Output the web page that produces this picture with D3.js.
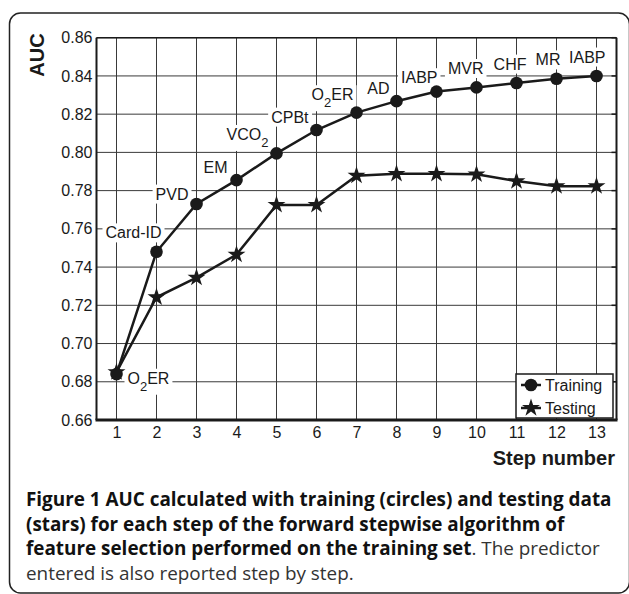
<!DOCTYPE html>
<html>
<head>
<meta charset="utf-8">
<script src="https://cdn.jsdelivr.net/npm/d3@7"></script>
<style>
  body { margin: 0; background: #fff; }
  svg { display: block; }
</style>
</head>
<body>
<div id="chart"></div>
<script>
// values
const steps = [1, 2, 3, 4, 5, 6, 7, 8, 9, 10, 11, 12, 13];
const training = [0.684, 0.748, 0.773, 0.7855, 0.7995, 0.8117, 0.8208, 0.8268, 0.8318, 0.834, 0.8363, 0.8385, 0.840];
const testing = [0.685, 0.7242, 0.7345, 0.7465, 0.7725, 0.7725, 0.7878, 0.7888, 0.7888, 0.7885, 0.785, 0.7823, 0.7823];
// "_2" marks a subscript 2
const predictors = ["O_2ER", "Card-ID", "PVD", "EM", "VCO_2", "CPBt", "O_2ER", "AD", "IABP", "MVR", "CHF", "MR", "IABP"];
const yTicks = [0.66, 0.68, 0.70, 0.72, 0.74, 0.76, 0.78, 0.80, 0.82, 0.84, 0.86];
const seriesNames = ["Training", "Testing"];

// label placement relative to the training point (px)
const labelOffsets = [
  { dx: 11, dy: 4, anchor: "start" },
  { dx: 5, dy: -19, anchor: "end" },
  { dx: -8, dy: -10, anchor: "end" },
  { dx: -9, dy: -13, anchor: "end" },
  { dx: -8, dy: -19, anchor: "end" },
  { dx: -8, dy: -13, anchor: "end" },
  { dx: -3, dy: -18, anchor: "end" },
  { dx: -7, dy: -13, anchor: "end" },
  { dx: 1, dy: -14, anchor: "end" },
  { dx: 7, dy: -19, anchor: "end" },
  { dx: 10, dy: -19, anchor: "end" },
  { dx: 4, dy: -19, anchor: "end" },
  { dx: 9, dy: -19, anchor: "end" }
];

const W = 629, H = 594;
const PLOT = { left: 96.5, right: 616.5, top: 37.7, bottom: 420 };
const FONT = "'Liberation Sans', Arial, sans-serif";
const INK = "#1a1a1a";

const svg = d3.select("#chart").append("svg")
  .attr("width", W)
  .attr("height", H);

// outer frame
svg.append("rect")
  .attr("x", 9.5).attr("y", 13)
  .attr("width", 620).attr("height", 580)
  .attr("rx", 11)
  .attr("fill", "none")
  .attr("stroke", "#222")
  .attr("stroke-width", 1.5);

const x = d3.scaleLinear().domain([0.5, 13.5]).range([PLOT.left, PLOT.right]);
const y = d3.scaleLinear().domain([0.66, 0.86]).range([PLOT.bottom, PLOT.top]);

// grid
const grid = svg.append("g").attr("stroke", "#3a3a3a").attr("stroke-width", 1);
grid.selectAll(".vg").data(steps).enter().append("line")
  .attr("x1", d => x(d)).attr("x2", d => x(d))
  .attr("y1", PLOT.top).attr("y2", PLOT.bottom);
grid.selectAll(".hg").data(yTicks).enter().append("line")
  .attr("x1", PLOT.left).attr("x2", PLOT.right)
  .attr("y1", d => y(d)).attr("y2", d => y(d));

// small inward ticks on the right border
grid.selectAll(".rt").data(yTicks).enter().append("line")
  .attr("x1", PLOT.right - 5).attr("x2", PLOT.right)
  .attr("y1", d => y(d)).attr("y2", d => y(d))
  .attr("stroke", INK).attr("stroke-width", 1.5);

// axes
const yAxis = svg.append("g")
  .attr("transform", `translate(${PLOT.left},0)`)
  .call(d3.axisLeft(y).tickValues(yTicks).tickFormat(d3.format(".2f")).tickSize(0).tickPadding(4));
const xAxis = svg.append("g")
  .attr("transform", `translate(0,${PLOT.bottom})`)
  .call(d3.axisBottom(x).tickValues(steps).tickFormat(d3.format("d")).tickSize(0).tickPadding(7));
[yAxis, xAxis].forEach(a => {
  a.select(".domain").remove();
  a.selectAll("text")
    .attr("font-family", FONT)
    .attr("font-size", 16)
    .attr("fill", INK);
});

// predictor labels with white boxes
const labels = svg.append("g")
  .attr("font-family", FONT)
  .attr("font-size", 16)
  .attr("fill", INK);

predictors.forEach((p, i) => {
  const off = labelOffsets[i];
  const g = labels.append("g");
  const t = g.append("text")
    .attr("x", x(steps[i]) + off.dx)
    .attr("y", y(training[i]) + off.dy)
    .attr("dy", "0.35em")
    .attr("text-anchor", off.anchor);
  const parts = p.split("_");
  t.append("tspan").text(parts[0]);
  if (parts.length > 1) {
    t.append("tspan").attr("font-size", 13).attr("dy", 7).text(parts[1].charAt(0));
    const rest = parts[1].slice(1);
    if (rest) t.append("tspan").attr("dy", -7).text(rest);
  }
  const bb = t.node().getBBox();
  g.insert("rect", "text")
    .attr("x", bb.x - 3).attr("y", bb.y - 1)
    .attr("width", bb.width + 6).attr("height", bb.height + 2)
    .attr("fill", "#fff");
});

// series
const line = d3.line().x((d, i) => x(steps[i])).y(d => y(d));
svg.append("path").datum(training)
  .attr("d", line).attr("fill", "none")
  .attr("stroke", INK).attr("stroke-width", 2.5);
svg.append("path").datum(testing)
  .attr("d", line).attr("fill", "none")
  .attr("stroke", INK).attr("stroke-width", 2.5);

const star = d3.symbol().type(d3.symbolStar).size(100);

svg.selectAll(".star").data(testing).enter().append("path")
  .attr("transform", (d, i) => `translate(${x(steps[i])},${y(d)})`)
  .attr("d", star)
  .attr("fill", INK);
svg.selectAll(".dot").data(training).enter().append("circle")
  .attr("cx", (d, i) => x(steps[i]))
  .attr("cy", d => y(d))
  .attr("r", 6.3)
  .attr("fill", INK);

// plot border: heavier left and bottom
const border = svg.append("g").attr("stroke", INK).attr("fill", "none");
border.append("line").attr("x1", PLOT.left).attr("x2", PLOT.right).attr("y1", PLOT.top).attr("y2", PLOT.top).attr("stroke-width", 1.5);
border.append("line").attr("x1", PLOT.right).attr("x2", PLOT.right).attr("y1", PLOT.top).attr("y2", PLOT.bottom).attr("stroke-width", 2);
border.append("line").attr("x1", PLOT.left).attr("x2", PLOT.left).attr("y1", PLOT.top).attr("y2", PLOT.bottom).attr("stroke-width", 2);
border.append("line").attr("x1", PLOT.left - 1).attr("x2", PLOT.right + 1).attr("y1", PLOT.bottom).attr("y2", PLOT.bottom).attr("stroke-width", 3);

// legend
const legend = svg.append("g").attr("transform", "translate(516,374)");
legend.append("rect")
  .attr("width", 97).attr("height", 44)
  .attr("fill", "#fff").attr("stroke", INK).attr("stroke-width", 1.5);
seriesNames.forEach((name, i) => {
  const ly = 11 + i * 23;
  legend.append("line")
    .attr("x1", 5).attr("x2", 25).attr("y1", ly).attr("y2", ly)
    .attr("stroke", INK).attr("stroke-width", 2.5);
  if (i === 0) {
    legend.append("circle").attr("cx", 15).attr("cy", ly).attr("r", 6.3).attr("fill", INK);
  } else {
    legend.append("path").attr("transform", `translate(15,${ly})`).attr("d", star).attr("fill", INK);
  }
  legend.append("text")
    .attr("x", 29).attr("y", ly).attr("dy", "0.35em")
    .attr("font-family", FONT).attr("font-size", 16).attr("fill", INK)
    .text(name);
});

// axis titles
svg.append("text")
  .attr("transform", "translate(44,55) rotate(-90)")
  .attr("text-anchor", "middle")
  .attr("font-family", FONT).attr("font-size", 20).attr("font-weight", "bold")
  .attr("fill", INK)
  .text("AUC");
svg.append("text")
  .attr("x", 615).attr("y", 465)
  .attr("text-anchor", "end")
  .attr("font-family", FONT).attr("font-size", 20).attr("font-weight", "bold")
  .attr("fill", INK)
  .text("Step number");

// caption
const CAP_FONT = "'Open Sans', 'Noto Sans', sans-serif";
const captionLines = [
  [["Figure 1 AUC calculated with training (circles) and testing data", true]],
  [["(stars) for each step of the forward stepwise algorithm of", true]],
  [["feature selection performed on the training set", true], [". The predictor", false]],
  [["entered is also reported step by step.", false]]
];
const caption = svg.append("g").attr("font-family", CAP_FONT);
const capTexts = captionLines.map((parts, i) => {
  const t = caption.append("text").attr("x", 26).attr("y", 506 + i * 24.5).attr("font-size", 18);
  parts.forEach(([s, bold]) => {
    t.append("tspan")
      .attr("font-weight", bold ? "bold" : "normal")
      .attr("fill", bold ? "#111" : "#333")
      .text(s);
  });
  return t;
});
// fit the first line to its width in the figure
const w0 = capTexts[0].node().getComputedTextLength();
const fs = 18 * 586 / w0;
capTexts.forEach(t => t.attr("font-size", fs));
</script>
</body>
</html>
